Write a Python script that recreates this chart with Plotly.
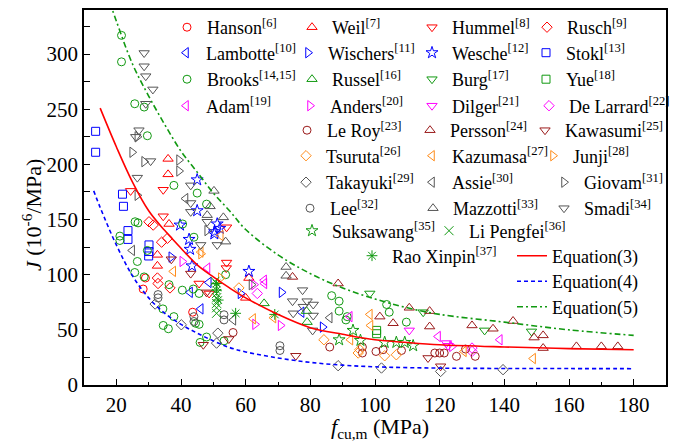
import plotly.graph_objects as go

# ---------------- curve values ----------------
eq3_x = [15, 20, 25, 30, 35, 40, 45, 50, 55, 60, 70, 80, 90, 100, 110, 120, 140, 160, 180]
eq3_y = [251, 216, 184, 158, 140, 124, 109, 98, 88, 79, 64, 52, 46, 41, 38.5, 36.5, 34.5, 33, 32]
eq4_x = [13, 15, 20, 25, 30, 35, 40, 45, 50, 55, 60, 70, 80, 90, 100, 120, 140, 160, 180]
eq4_y = [176, 161, 127, 99, 79, 65, 55, 47, 40, 34, 30, 24.5, 20.5, 18, 16.5, 15.3, 15, 14.9, 14.8]
eq5_x = [18, 20, 25, 30, 35, 40, 45, 50, 55, 60, 70, 80, 90, 100, 110, 120, 140, 160, 180]
eq5_y = [347, 330, 291, 262, 236, 212, 193, 174, 158, 141, 118, 101, 88, 78, 70, 64, 57, 50, 45]

# ---------------- scatter series ----------------
hanson_x = [28.3, 29.0, 43.6]
hanson_y = [87, 97, 66]
weil_x = [36.0, 36.0, 36.3, 32.7, 32.7, 60.0, 61.0]
weil_y = [205, 191, 146, 118, 108, 79, 97]
hummel_x = [34.5, 24.4, 34.5, 54.1, 54.1, 54.0, 45.6, 48.7]
hummel_y = [177, 176, 153, 143, 111, 106, 92, 83]
rusch_x = [30.1, 31.4, 34.0, 35.8, 32.7, 32.9, 36.6]
rusch_y = [148, 145, 129.5, 133, 97, 92, 88]
lambotte_x = [42.8, 48.6, 46.1, 77.3]
lambotte_y = [84, 93, 69, 66]
wischers_x = [37.0, 58.4, 71.1, 83.8]
wischers_y = [116, 83, 84, 52.5]
wesche_x = [45.0, 45.0, 39.7, 51.2, 50.4, 42.5, 42.8, 43.4, 61.0, 52.0, 50.3]
wesche_y = [186, 158, 145, 146, 139, 132, 123, 108, 103, 142, 137]
stokl_x = [13.6, 13.6, 21.9, 22.2, 23.6, 23.6, 30.1, 30.1, 30.0]
stokl_y = [230, 211, 173, 162, 140, 132, 127, 121, 117]
brooks_x = [21.6, 21.6, 25.7, 28.6, 29.6, 37.8, 45.0, 47.9, 26.7, 40.5, 21.1, 21.1, 44.0, 29.6,
            26.5, 25.7, 28.6, 36.3, 40.4, 43.8, 45.6, 53.8, 34.4, 37.8, 34.5, 36.1, 44.5, 45.6,
            47.9, 45.9, 53.3, 86.6, 88.9, 88.9, 91.4, 91.0, 103.6, 104.4, 109.7, 25.8]
brooks_y = [317, 293, 255, 252, 226, 181, 174, 164, 147, 146, 135, 131, 134, 122,
            112, 102, 98, 91, 86, 87, 83, 100, 69, 62, 54, 51, 56, 55,
            43.5, 38.6, 40, 81, 76, 67, 62, 59, 73, 66, 57, 148]
russel_x = [65.7, 78.8, 79.0]
russel_y = [74, 67, 57]
burg_x = [98.4, 114.9, 133.9, 148.4]
burg_y = [83, 66, 49.5, 48.6]
yue_x = [100.5, 100.5]
yue_y = [49.5, 46.5]
adam_x = [65.7, 48.2, 65.8, 92.2, 119.5, 138.6]
adam_y = [95, 106, 92, 62, 44, 41]
anders_x = [40.4, 62.6, 62.9, 70.8, 123.8]
anders_y = [112, 91, 55, 54, 35]
dilger_x = [110.6, 122.1, 122.6]
dilger_y = [49.5, 38, 35.6]
delarrard_x = [63.6, 130.0, 130.0]
delarrard_y = [83, 33.5, 30.4]
leroy_x = [56.1, 86.0, 96.1, 96.1, 100.3, 102.5, 108.2, 118.5, 120.0, 121.4, 125.2, 128.0, 131.0]
leroy_y = [47.6, 34.4, 34.4, 29, 30.4, 32, 31.3, 29, 29, 29, 26, 32.6, 26]
persson_x = [74.5, 88.6, 101.5, 105.6, 110.6, 116.9, 116.9, 130.0, 136.5, 142.7, 149.2, 152.0,
             152.0, 162.3, 170.0, 175.1]
persson_y = [98, 92, 62, 56, 70, 67, 53, 54, 51, 58, 43, 45, 33.5, 35, 35, 35]
kawasumi_x = [37.0, 43.0, 47.9, 46.9, 54.8, 75.5, 116.4, 120.3]
kawasumi_y = [114, 101, 84, 36.5, 41.7, 26.5, 24.5, 17]
tsuruta_x = [57.9, 84.2, 94.8, 95.3, 103.0, 106.6]
tsuruta_y = [88, 41, 29, 32, 26.5, 27.4]
kazumasa_x = [52.3, 46.1, 37.6, 62.3, 68.6, 92.4, 98.4, 98.6, 127.5, 148.9]
kazumasa_y = [135.5, 120.5, 103, 60, 61, 41, 64, 54, 30.4, 24]
junji_x = [52.3, 46.2]
junji_y = [97, 119]
takayuki_x = [32.0, 40.1, 51.4, 51.0, 88.6, 102.0, 120.3, 139.6]
takayuki_y = [73.4, 54.6, 47, 38, 17.5, 15.4, 12.3, 13.9]
assie_x = [41.4, 24.9, 56.2, 86.0]
assie_y = [169, 122, 59, 61]
giovam_x = [26.5, 24.9, 28.6, 39.4, 39.4, 26.5, 48.1, 61.8]
giovam_y = [225, 211, 202.5, 204, 194, 172, 140, 91]
lee_x = [32.9, 32.9, 44.0, 44.0, 53.3, 53.3, 70.6, 70.6]
lee_y = [82, 79, 62, 57.6, 63.7, 59, 35.6, 31.3]
mazzotti_x = [50.2, 49.0, 48.1, 53.1, 53.8, 72.5, 72.5]
mazzotti_y = [176, 162, 154, 152, 130, 107, 99]
smadi_x = [28.6, 28.6, 29.1, 31.3, 29.1, 27.0, 26.0, 30.6, 26.5, 43.0, 43.0, 43.0, 48.1, 46.1,
           51.2, 77.6, 74.5, 79.0, 80.9, 77.8, 74.7, 80.9, 80.7]
smadi_y = [301, 289, 280, 268, 255, 231, 225, 203, 188, 181, 165, 157, 148, 127,
           127, 86, 76, 76, 73, 71, 65, 63, 49.5]
suksawang_x = [88.9, 93.2, 95.5, 103.0, 106.6, 109.2, 111.8]
suksawang_y = [41, 49.5, 40.4, 38.6, 38.6, 38.6, 35.6]
lipengfei_x = [51.0, 51.0, 51.0, 51.0, 51.0, 51.0, 50.5]
lipengfei_y = [89, 83, 79, 74, 70, 65, 94]
rao_x = [51.0, 51.0, 51.5, 56.9, 69.0]
rao_y = [92, 86, 77, 65, 64]

# tick labels
x_ticks = [20, 40, 60, 80, 100, 120, 140, 160, 180]
y_ticks = [0, 50, 100, 150, 200, 250, 300]

RED, BLUE, GREEN, MAG = "#FF0000", "#0000FF", "#119911", "#FF00FF"
DRED, ORANGE, GRAY = "#9B1B1B", "#FF8C1A", "#555555"
SERIF = "Liberation Serif, Times New Roman, serif"

# legend rows (centre y in px) and symbol centre x in px
R1, R2, R3, R4, R5, R6, R7, R8, R9, R10, R11, R12 = 27.5, 53, 79.5, 106, 130.5, 156, 182.5, 208.5, 231, 256, 281.5, 307

# (name, x, y, symbol, color, legend symbol px x, legend row px y)
specs = [
    ("Hanson<sup>[6]</sup>", hanson_x, hanson_y, "circle-open", RED, 188, R1),
    ("Weil<sup>[7]</sup>", weil_x, weil_y, "triangle-up-open", RED, 313, R1),
    ("Hummel<sup>[8]</sup>", hummel_x, hummel_y, "triangle-down-open", RED, 433, R1),
    ("Rusch<sup>[9]</sup>", rusch_x, rusch_y, "diamond-open", RED, 548, R1),
    ("Lambotte<sup>[10]</sup>", lambotte_x, lambotte_y, "triangle-left-open", BLUE, 187, R2),
    ("Wischers<sup>[11]</sup>", wischers_x, wischers_y, "triangle-right-open", BLUE, 309, R2),
    ("Wesche<sup>[12]</sup>", wesche_x, wesche_y, "star-open", BLUE, 433, R2),
    ("Stokl<sup>[13]</sup>", stokl_x, stokl_y, "square-open", BLUE, 547, R2),
    ("Brooks<sup>[14,15]</sup>", brooks_x, brooks_y, "circle-open", GREEN, 188, R3),
    ("Russel<sup>[16]</sup>", russel_x, russel_y, "triangle-up-open", GREEN, 313, R3),
    ("Burg<sup>[17]</sup>", burg_x, burg_y, "triangle-down-open", GREEN, 433, R3),
    ("Yue<sup>[18]</sup>", yue_x, yue_y, "square-open", GREEN, 547, R3),
    ("Adam<sup>[19]</sup>", adam_x, adam_y, "triangle-left-open", MAG, 187, R4),
    ("Anders<sup>[20]</sup>", anders_x, anders_y, "triangle-right-open", MAG, 311, R4),
    ("Dilger<sup>[21]</sup>", dilger_x, dilger_y, "triangle-down-open", MAG, 433, R4),
    ("De Larrard<sup>[22]</sup>", delarrard_x, delarrard_y, "diamond-open", MAG, 550, R4),
    ("Le Roy<sup>[23]</sup>", leroy_x, leroy_y, "circle-open", DRED, 308, R5),
    ("Persson<sup>[24]</sup>", persson_x, persson_y, "triangle-up-open", DRED, 431, R5),
    ("Kawasumi<sup>[25]</sup>", kawasumi_x, kawasumi_y, "triangle-down-open", DRED, 546, R5),
    ("Tsuruta<sup>[26]</sup>", tsuruta_x, tsuruta_y, "diamond-open", ORANGE, 307, R6),
    ("Kazumasa<sup>[27]</sup>", kazumasa_x, kazumasa_y, "triangle-left-open", ORANGE, 433, R6),
    ("Junji<sup>[28]</sup>", junji_x, junji_y, "triangle-right-open", ORANGE, 554, R6),
    ("Takayuki<sup>[29]</sup>", takayuki_x, takayuki_y, "diamond-open", GRAY, 307, R7),
    ("Assie<sup>[30]</sup>", assie_x, assie_y, "triangle-left-open", GRAY, 433, R7),
    ("Giovam<sup>[31]</sup>", giovam_x, giovam_y, "triangle-right-open", GRAY, 565, R7),
    ("Lee<sup>[32]</sup>", lee_x, lee_y, "circle-open", GRAY, 311, R8),
    ("Mazzotti<sup>[33]</sup>", mazzotti_x, mazzotti_y, "triangle-up-open", GRAY, 434, R8),
    ("Smadi<sup>[34]</sup>", smadi_x, smadi_y, "triangle-down-open", GRAY, 565, R8),
    ("Suksawang<sup>[35]</sup>", suksawang_x, suksawang_y, "star-open", GREEN, 313, R9),
    ("Li Pengfei<sup>[36]</sup>", lipengfei_x, lipengfei_y, "x-thin-open", GREEN, 450, R9),
    ("Rao Xinpin<sup>[37]</sup>", rao_x, rao_y, "asterisk-open", GREEN, 373, R10),
]

# plot area in pixels
L, R, T, B = 84, 666, 10, 385
W, H = R - L, B - T


def px_x(p):
    return (p - L) / W


def px_y(p):
    return (B - p) / H


legend_font = dict(family=SERIF, size=18, color="black")
legend_layout = {}
fig = go.Figure()


def legend_id(i):
    return "legend" if i == 1 else f"legend{i}"


def add_legend(i, sx, sy):
    legend_layout[legend_id(i)] = dict(
        x=px_x(sx - 21), y=px_y(sy), xanchor="left", yanchor="middle", orientation="v",
        bgcolor="rgba(0,0,0,0)", borderwidth=0, font=legend_font, tracegroupgap=0,
    )


idx = 0
for name, xs, ys, sym, col, sx, sy in specs:
    idx += 1
    size = 8 if sym in ("circle-open", "square-open", "diamond-open") else 9
    fig.add_trace(go.Scatter(
        x=xs, y=ys, mode="markers", name=name, legend=legend_id(idx),
        marker=dict(symbol=sym, size=size, color=col, line=dict(color=col, width=1)),
    ))
    add_legend(idx, sx, sy)

curves = [
    ("Equation(3)", eq3_x, eq3_y, RED, "solid", R10),
    ("Equation(4)", eq4_x, eq4_y, BLUE, "4px,3px", R11),
    ("Equation(5)", eq5_x, eq5_y, GREEN, "6px,3px,2px,3px", R12),
]
for name, xs, ys, col, dash, sy in curves:
    idx += 1
    fig.add_trace(go.Scatter(x=xs, y=ys, mode="lines", name=name, legend=legend_id(idx),
                             line=dict(color=col, width=1.6, dash=dash, shape="spline")))
    add_legend(idx, 533, sy)

axis_common = dict(
    showline=True, linecolor="black", linewidth=1.5, mirror=True,
    ticks="inside", ticklen=6, tickwidth=1.2, tickcolor="black",
    showgrid=False, zeroline=False, automargin=False,
    tickfont=dict(family=SERIF, size=21, color="black"),
)

fig.update_layout(
    width=675, height=441,
    margin=dict(l=L, r=675 - R, t=T, b=441 - B, autoexpand=False),
    paper_bgcolor="white", plot_bgcolor="white",
    showlegend=True,
    font=dict(family=SERIF, color="black"),
    xaxis=dict(
        range=[10, 190], tickvals=x_ticks, ticktext=[str(v) for v in x_ticks],
        minor=dict(dtick=10, tick0=10, ticks="inside", ticklen=3.5, tickcolor="black", tickwidth=1.2),
        **axis_common,
    ),
    yaxis=dict(
        range=[0, 340], tickvals=y_ticks, ticktext=[str(v) for v in y_ticks],
        minor=dict(dtick=25, tick0=0, ticks="inside", ticklen=6, tickcolor="black", tickwidth=1.2),
        **axis_common,
    ),
    annotations=[
        dict(text="<i>f</i><sub>cu,m</sub> (MPa)", xref="paper", yref="paper",
             x=px_x(380), y=px_y(428), xanchor="center", yanchor="middle", showarrow=False,
             font=dict(family=SERIF, size=22, color="black")),
        dict(text="<i>J</i> (10<sup>-6</sup>/MPa)", xref="paper", yref="paper",
             x=px_x(32), y=px_y(215), xanchor="center", yanchor="middle", showarrow=False,
             textangle=-90, font=dict(family=SERIF, size=22, color="black")),
    ],
    **legend_layout,
)

fig.write_html("out.html", config={"displayModeBar": False},
               post_script="document.body.style.margin='0px';")
